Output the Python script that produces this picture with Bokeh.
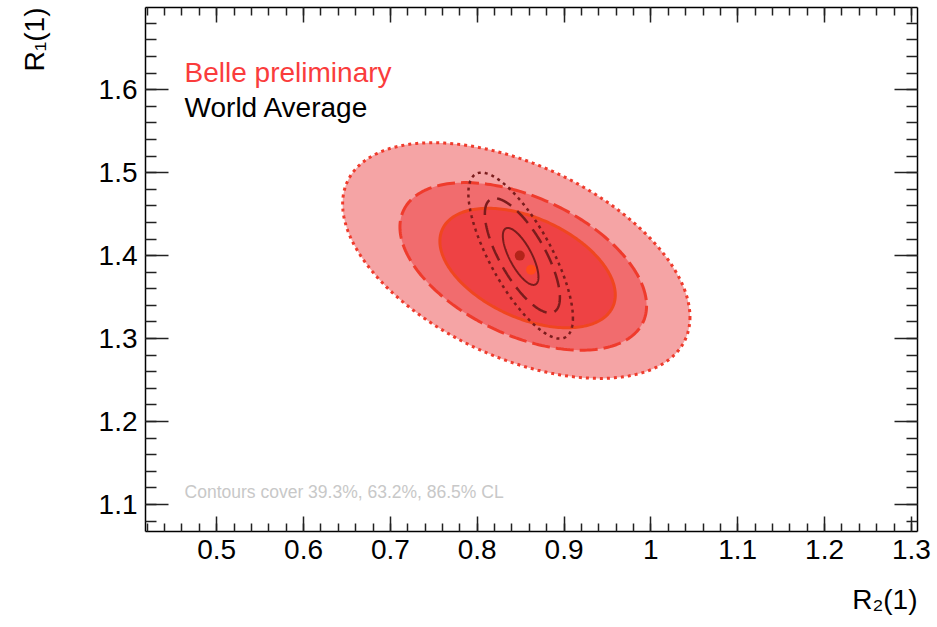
import numpy as np
from bokeh.plotting import figure
from bokeh.models import (Range1d, SingleIntervalTicker, FixedTicker, LinearAxis,
                          CustomJSTickFormatter, Label, Title)
from bokeh.embed import file_html
from bokeh.resources import INLINE

# ---------------- data ----------------
x_limits = [0.418, 1.307]
y_limits = [1.0675, 1.699]
tick_step = 0.1

# central values
belle_center_x = [0.862]
belle_center_y = [1.383]
wa_center_x = [0.849]
wa_center_y = [1.400]

# Belle contours (inner 39.3%, middle 63.2%, outer 86.5% CL)
belle_cx = [0.858, 0.853, 0.845]
belle_cy = [1.385, 1.387, 1.394]
belle_hx = [0.101, 0.142, 0.200]     # half extent along R2(1)
belle_hy = [0.072, 0.101, 0.142]     # half extent along R1(1)
belle_rho = [-0.45, -0.47, -0.48]

# World average contours (inner, middle, outer)
wa_cx = [0.850, 0.852, 0.850]
wa_cy = [1.399, 1.400, 1.400]
wa_hx = [0.0205, 0.0432, 0.0602]
wa_hy = [0.0343, 0.0690, 0.1000]
wa_rho = [-0.72, -0.73, -0.75]

legend_texts = ["Belle preliminary", "World Average"]
note_text = "Contours cover 39.3%, 63.2%, 86.5% CL"
x_title = "R\u2082(1)"
y_title = "R\u2081(1)"

# ---------------- styles ----------------
FONT = "Liberation Sans"
belle_fill = ["#ee4244", "#f16c6e", "#f5a4a5"]
belle_line = ["#f0461f", "#ef3b2c", "#ef3b2c"]
belle_dash = ["solid", "18 6", "3 4"]
belle_width = [3, 3, 3]
wa_line = "#7a1c1c"
wa_dash = ["solid", "16 8", "3 4"]
wa_width = [2, 2.5, 2.5]


def contour(cx, cy, hx, hy, rho, n=240):
    t = np.linspace(0.0, 2.0 * np.pi, n)
    phi = np.arccos(rho)
    return cx + hx * np.cos(t), cy + hy * np.cos(t + phi)


p = figure(width=935, height=625,
           x_range=Range1d(*x_limits), y_range=Range1d(*y_limits),
           output_backend="svg", toolbar_location=None)
p.min_border_left = 145
p.min_border_right = 18
p.min_border_top = 7
p.min_border_bottom = 94
p.outline_line_color = None
p.xgrid.visible = False
p.ygrid.visible = False
p.background_fill_color = "white"
p.border_fill_color = "white"

fmt_code = "return String(Math.round(tick*10)/10);"


def style_axis(ax, major, minor, labels):
    ax.ticker = SingleIntervalTicker(interval=tick_step, num_minor_ticks=5)
    ax.formatter = CustomJSTickFormatter(code=fmt_code)
    ax.axis_line_color = "black"
    ax.axis_line_width = 1.5
    ax.major_tick_in = major
    ax.major_tick_out = 0
    ax.minor_tick_in = minor
    ax.minor_tick_out = 0
    ax.major_tick_line_color = "#222222"
    ax.major_tick_line_width = 1.5
    ax.minor_tick_line_color = "#222222"
    ax.minor_tick_line_width = 1.5
    ax.major_label_text_font = FONT
    if labels:
        ax.major_label_text_font_size = "28px"
        ax.major_label_text_color = "black"
    else:
        ax.major_label_text_font_size = "0px"
        ax.major_label_text_color = None
        ax.major_label_standoff = 0


def spacer_axis(gap, mid):
    # an axis with one invisible tick that only reserves `gap` pixels of room
    ax = LinearAxis(ticker=FixedTicker(ticks=[mid], minor_ticks=[]))
    ax.axis_line_color = None
    ax.major_tick_in = 0
    ax.major_tick_out = gap
    ax.minor_tick_in = 0
    ax.minor_tick_out = 0
    ax.major_tick_line_color = None
    ax.minor_tick_line_color = None
    ax.major_label_standoff = 0
    ax.major_label_text_font_size = "0px"
    ax.major_label_text_color = None
    return ax


xb = p.below[0]
yl = p.left[0]
style_axis(xb, 15, 8, True)
xb.major_label_standoff = 8
style_axis(yl, 23, 11, True)
yl.major_label_standoff = 8

xt = LinearAxis()
style_axis(xt, 15, 8, False)
p.add_layout(xt, "above")
yr = LinearAxis()
style_axis(yr, 23, 11, False)
p.add_layout(yr, "right")

# axis titles at the far ends of the axes (ROOT style)
p.add_layout(spacer_axis(20, sum(x_limits) / 2), "below")
p.add_layout(Title(text=x_title, align="right", vertical_align="bottom", standoff=0,
                   text_font=FONT, text_font_size="28px", text_font_style="normal",
                   text_color="black"), "below")
p.add_layout(spacer_axis(46, sum(y_limits) / 2), "left")
p.add_layout(Title(text=y_title, align="right", vertical_align="bottom", standoff=0,
                   text_font=FONT, text_font_size="28px", text_font_style="normal",
                   text_color="black"), "left")

# Belle contours, outer first
for i in [2, 1, 0]:
    xs, ys = contour(belle_cx[i], belle_cy[i], belle_hx[i], belle_hy[i], belle_rho[i])
    p.patch(xs, ys, fill_color=belle_fill[i], line_color=belle_line[i],
            line_width=belle_width[i], line_dash=belle_dash[i])

# World average contours
for i in [2, 1, 0]:
    xs, ys = contour(wa_cx[i], wa_cy[i], wa_hx[i], wa_hy[i], wa_rho[i])
    p.line(xs, ys, line_color=wa_line, line_width=wa_width[i], line_dash=wa_dash[i])

p.scatter(wa_center_x, wa_center_y, size=10, fill_color="#b3241a", line_color=None)
p.scatter(belle_center_x, belle_center_y, size=10, fill_color="#ff4a1a", line_color=None)

# texts inside the frame
p.add_layout(Label(x=0.463, y=1.621, text=legend_texts[0], text_font=FONT,
                   text_font_size="28px", text_color="#fa3c3c",
                   text_baseline="alphabetic"))
p.add_layout(Label(x=0.463, y=1.579, text=legend_texts[1], text_font=FONT,
                   text_font_size="28px", text_color="black",
                   text_baseline="alphabetic"))
p.add_layout(Label(x=0.463, y=1.115, text=note_text, text_font=FONT,
                   text_font_size="17.5px", text_color="#c8c8c8",
                   text_baseline="alphabetic"))

open("out.html", "w").write(file_html(p, INLINE))
